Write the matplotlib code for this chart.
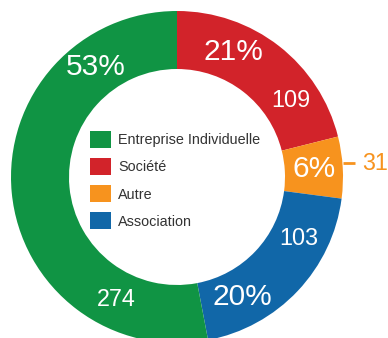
import matplotlib
matplotlib.use("Agg")
import matplotlib.pyplot as plt
from matplotlib.patches import Patch
import numpy as np

plt.rcParams['font.family'] = ['Liberation Sans', 'DejaVu Sans']

# Data (legend order)
categories = ["Entreprise Individuelle", "Société", "Autre", "Association"]
counts = [274, 109, 31, 103]
colors = ["#109444", "#d2232a", "#f7931e", "#1167a8"]

# drawing order clockwise from top
draw_order = [1, 2, 3, 0]
# label placement inside each wedge (fraction of wedge span)
pct_frac = {0: 0.81, 1: 0.32, 2: 0.5, 3: 0.75}
cnt_frac = {0: 0.195, 1: 0.74, 3: 0.27}

W, H = 388, 338
fig = plt.figure(figsize=(W / 100, H / 100), dpi=100)
ax = fig.add_axes([0, 0, 1, 1])

cx, cy = 177, H - 177
R = 166
ring = 58

vals = [counts[i] for i in draw_order]
cols = [colors[i] for i in draw_order]
ax.pie(vals, colors=cols, startangle=90, counterclock=False, radius=R,
       center=(cx, cy), wedgeprops=dict(width=ring, linewidth=0),
       frame=True)
ax.set_xlim(0, W)
ax.set_ylim(0, H)
ax.set_aspect('equal')
ax.axis('off')

total = sum(counts)
cum = 0
rmid = R - ring / 2
for i in draw_order:
    frac = counts[i] / total
    a0 = cum * 360
    a1 = (cum + frac) * 360
    cum += frac
    pct = f"{round(frac * 100)}%"
    a = a0 + pct_frac[i] * (a1 - a0)
    th = np.deg2rad(90 - a)
    ax.text(cx + rmid * np.cos(th), cy + rmid * np.sin(th), pct,
            color='white', fontsize=21.5, ha='center', va='center')
    if i in cnt_frac:
        a = a0 + cnt_frac[i] * (a1 - a0)
        th = np.deg2rad(90 - a)
        ax.text(cx + rmid * np.cos(th), cy + rmid * np.sin(th), str(counts[i]),
                color='white', fontsize=16.8, ha='center', va='center')
    else:
        a = (a0 + a1) / 2
        th = np.deg2rad(90 - a)
        x0, y0 = cx + R * np.cos(th), cy + R * np.sin(th) + 4
        ax.plot([x0, x0 + 12], [y0, y0], color=colors[i], lw=2,
                solid_capstyle='butt')
        ax.text(x0 + 19, y0, str(counts[i]), color=colors[i],
                fontsize=16.8, ha='left', va='center')

handles = [Patch(facecolor=c, edgecolor='none') for c in colors]
fig.legend(handles, categories, loc='upper left',
           bbox_to_anchor=(90 / W, 1 - 131 / H), frameon=False,
           fontsize=10.4, handlelength=1.46, handleheight=1.46,
           handletextpad=0.5, labelspacing=0.68, borderpad=0,
           borderaxespad=0, labelcolor='#333333')

fig.savefig("out.png", dpi=100)
